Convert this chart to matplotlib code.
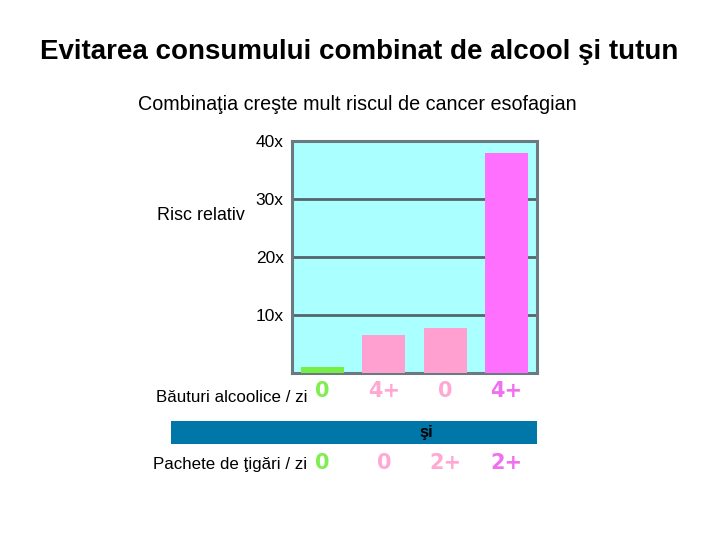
import matplotlib
matplotlib.use("Agg")
import matplotlib.pyplot as plt
from matplotlib.transforms import blended_transform_factory
from matplotlib.patches import Rectangle

plt.rcParams['font.family'] = ['Liberation Sans', 'DejaVu Sans']

# Data
groups = [0, 1, 2, 3]
risk = [1.0, 6.5, 7.8, 38.0]
bar_colors = ['#77ee44', '#ffa0d0', '#ffa0d0', '#ff70ff']
yticks = [10, 20, 30, 40]
ytick_labels = ['10x', '20x', '30x', '40x']
alcohol = ['0', '4+', '0', '4+']
tobacco = ['0', '0', '2+', '2+']
label_colors = ['#80ee50', '#ffa8d4', '#ffa8d4', '#f070f0']

title = 'Evitarea consumului combinat de alcool şi tutun'
subtitle = 'Combinaţia creşte mult riscul de cancer esofagian'

W, H = 720, 540
fig = plt.figure(figsize=(7.2, 5.4), dpi=100)
fig.patch.set_facecolor('white')

def fx(x):
    return x / W

def fy(y):
    return 1 - y / H

ax = fig.add_axes([fx(292), fy(373), fx(537) - fx(292), fy(141) - fy(373)])
ax.set_facecolor('#aaffff')
ax.bar(groups, risk, width=0.7, color=bar_colors, zorder=3)
ax.set_xlim(-0.5, 3.5)
ax.set_ylim(0, 40)
ax.set_xticks([])
ax.set_yticks(yticks)
ax.set_yticklabels(ytick_labels, fontsize=12.5)
ax.tick_params(axis='y', length=0, pad=6)
ax.grid(axis='y', color='#55656b', linewidth=2, zorder=1)
for s in ax.spines.values():
    s.set_color('#6a7a80')
    s.set_linewidth(2.2)

fig.text(fx(359), fy(52), title, ha='center', va='center', fontsize=20, fontweight='bold')
fig.text(fx(357), fy(105), subtitle, ha='center', va='center', fontsize=14.2)
fig.text(fx(245), fy(216), 'Risc relativ', ha='right', va='center', fontsize=12.9)

tr = blended_transform_factory(ax.transData, fig.transFigure)
fig.text(fx(307), fy(397), 'Băuturi alcoolice / zi', ha='right', va='center', fontsize=12.2)
fig.text(fx(307), fy(464), 'Pachete de ţigări / zi', ha='right', va='center', fontsize=12.2)
for i, g in enumerate(groups):
    fig.text(g, fy(397), alcohol[i], transform=tr, ha='center', va='baseline',
             fontsize=15, fontweight='bold', color=label_colors[i],
             family=['DejaVu Sans'])
    fig.text(g, fy(469), tobacco[i], transform=tr, ha='center', va='baseline',
             fontsize=15, fontweight='bold', color=label_colors[i],
             family=['DejaVu Sans'])

band = Rectangle((fx(171), fy(444)), fx(537) - fx(171), fy(421) - fy(444),
                 transform=fig.transFigure, facecolor='#0077a8', edgecolor='none')
fig.patches.append(band)
fig.text(fx(426), fy(432), 'şi', ha='center', va='center', fontsize=12, fontweight='bold')

fig.savefig('out.png', dpi=100)
